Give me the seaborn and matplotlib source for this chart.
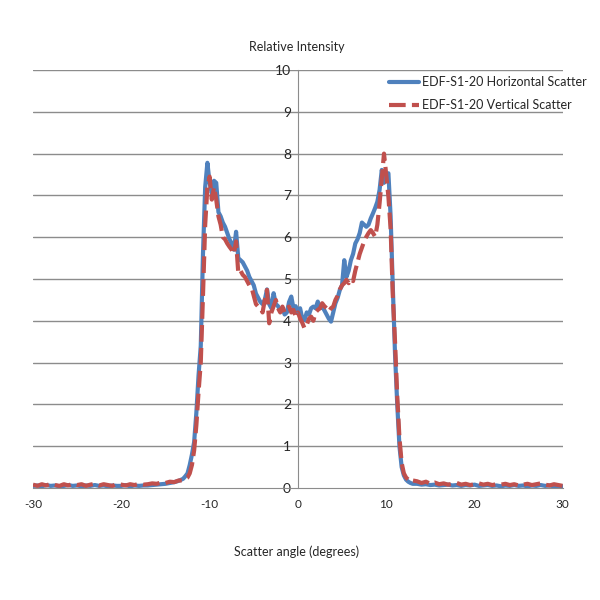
import numpy as np
import pandas as pd
import matplotlib
matplotlib.use("Agg")
import matplotlib.pyplot as plt
import seaborn as sns

# ---------------- data ----------------
angle_left = [-30.0, -29.5, -29.0, -28.5, -28.0, -27.5, -27.0, -26.5, -26.0, -25.5,
              -25.0, -24.5, -24.0, -23.5, -23.0, -22.5, -22.0, -21.5, -21.0, -20.5,
              -20.0, -19.5, -19.0, -18.5, -18.0, -17.5, -17.0, -16.5, -16.0, -15.5,
              -15.0, -14.5, -14.0, -13.5]
angle_core = [-13.0, -12.75, -12.5, -12.25, -12.0, -11.75, -11.5, -11.25, -11.0, -10.75,
              -10.5, -10.25, -10.0, -9.75, -9.5, -9.25, -9.0, -8.75, -8.5, -8.25,
              -8.0, -7.75, -7.5, -7.25, -7.0, -6.75, -6.5, -6.25, -6.0, -5.75,
              -5.5, -5.25, -5.0, -4.75, -4.5, -4.25, -4.0, -3.75, -3.5, -3.25,
              -3.0, -2.75, -2.5, -2.25, -2.0, -1.75, -1.5, -1.25, -1.0, -0.75,
              -0.5, -0.25, 0.0, 0.25, 0.5, 0.75, 1.0, 1.25, 1.5, 1.75,
              2.0, 2.25, 2.5, 2.75, 3.0, 3.25, 3.5, 3.75, 4.0, 4.25,
              4.5, 4.75, 5.0, 5.25, 5.5, 5.75, 6.0, 6.25, 6.5, 6.75,
              7.0, 7.25, 7.5, 7.75, 8.0, 8.25, 8.5, 8.75, 9.0, 9.25,
              9.5, 9.75, 10.0, 10.25, 10.5, 10.75, 11.0, 11.25, 11.5, 11.75,
              12.0, 12.25, 12.5, 12.75, 13.0]
angle_right = [13.5, 14.0, 14.5, 15.0, 15.5, 16.0, 16.5, 17.0, 17.5, 18.0,
               18.5, 19.0, 19.5, 20.0, 20.5, 21.0, 21.5, 22.0, 22.5, 23.0,
               23.5, 24.0, 24.5, 25.0, 25.5, 26.0, 26.5, 27.0, 27.5, 28.0,
               28.5, 29.0, 29.5, 30.0]

horiz_left = [0.05, 0.06, 0.04, 0.07, 0.05, 0.06, 0.04, 0.05, 0.07, 0.05,
              0.06, 0.04, 0.06, 0.05, 0.07, 0.05, 0.06, 0.04, 0.06, 0.05,
              0.05, 0.07, 0.04, 0.06, 0.05, 0.06, 0.06, 0.07, 0.08, 0.09,
              0.10, 0.12, 0.14, 0.17]
horiz_core = [0.22, 0.28, 0.35, 0.55, 0.80, 1.10, 1.80, 2.70, 3.40, 5.60,
              7.20, 7.78, 7.30, 7.05, 7.35, 7.30, 6.60, 6.50, 6.35, 6.25,
              6.10, 5.95, 5.85, 5.70, 6.13, 5.50, 5.45, 5.40, 5.30, 5.20,
              5.05, 4.95, 4.85, 4.65, 4.55, 4.45, 4.40, 4.50, 4.75, 4.40,
              4.30, 4.66, 4.40, 4.35, 4.25, 4.30, 4.15, 4.20, 4.45, 4.58,
              4.30, 4.35, 4.18, 4.30, 4.05, 4.02, 4.20, 4.15, 4.30, 4.34,
              4.30, 4.46, 4.30, 4.34, 4.25, 4.15, 4.05, 3.98, 4.20, 4.42,
              4.55, 4.74, 4.85, 5.45, 5.05, 5.20, 5.45, 5.60, 5.85, 5.95,
              6.10, 6.35, 6.30, 6.25, 6.30, 6.45, 6.57, 6.70, 6.85, 7.13,
              7.61, 7.30, 7.45, 7.53, 6.50, 4.80, 3.20, 2.00, 1.00, 0.50,
              0.30, 0.20, 0.15, 0.12, 0.10]
horiz_right = [0.10, 0.08, 0.09, 0.07, 0.08, 0.06, 0.07, 0.08, 0.06, 0.07,
               0.05, 0.07, 0.06, 0.08, 0.05, 0.06, 0.07, 0.05, 0.06, 0.04,
               0.06, 0.05, 0.07, 0.05, 0.06, 0.04, 0.06, 0.05, 0.07, 0.05,
               0.06, 0.04, 0.05, 0.04]

vert_left = [0.08, 0.05, 0.09, 0.06, 0.10, 0.07, 0.05, 0.09, 0.06, 0.10,
             0.07, 0.09, 0.05, 0.08, 0.10, 0.06, 0.09, 0.07, 0.05, 0.10,
             0.08, 0.06, 0.09, 0.07, 0.10, 0.08, 0.09, 0.11, 0.10, 0.13,
             0.12, 0.15, 0.14, 0.18]
vert_core = [0.18, 0.22, 0.25, 0.35, 0.55, 0.90, 1.50, 2.30, 3.00, 4.60,
             6.30, 7.20, 7.45, 6.90, 7.20, 6.90, 6.50, 6.30, 6.00, 5.95,
             5.85, 5.77, 5.70, 5.60, 5.90, 5.14, 5.20, 5.10, 5.05, 4.95,
             4.85, 4.80, 4.60, 4.40, 4.34, 4.30, 4.20, 4.50, 4.74, 3.94,
             4.20, 4.35, 4.50, 4.30, 4.20, 4.34, 4.20, 4.30, 4.34, 4.20,
             4.26, 4.10, 4.20, 4.06, 3.95, 3.82, 3.90, 4.05, 4.10, 4.00,
             4.20, 4.26, 4.30, 4.42, 4.35, 4.30, 4.22, 4.30, 4.34, 4.50,
             4.60, 4.75, 4.85, 4.90, 4.98, 4.90, 5.00, 4.95, 5.20, 5.40,
             5.60, 5.75, 5.90, 6.01, 6.10, 6.17, 6.10, 6.01, 6.30, 6.81,
             7.40, 8.00, 7.50, 6.97, 6.20, 4.60, 3.50, 2.20, 1.20, 0.60,
             0.35, 0.25, 0.20, 0.15, 0.18]
vert_right = [0.16, 0.12, 0.15, 0.10, 0.13, 0.09, 0.11, 0.08, 0.10, 0.12,
              0.08, 0.10, 0.07, 0.09, 0.11, 0.08, 0.10, 0.07, 0.09, 0.08,
              0.10, 0.07, 0.09, 0.06, 0.08, 0.10, 0.07, 0.09, 0.11, 0.08,
              0.06, 0.09, 0.07, 0.05]

angles = angle_left + angle_core + angle_right
horizontal = horiz_left + horiz_core + horiz_right
vertical = vert_left + vert_core + vert_right

series_names = ["EDF-S1-20 Horizontal Scatter", "EDF-S1-20 Vertical Scatter"]
x_ticks = [-30, -20, -10, 0, 10, 20, 30]
y_ticks = [0, 1, 2, 3, 4, 5, 6, 7, 8, 9, 10]

df = pd.DataFrame({"angle": angles, "h": horizontal, "v": vertical})

# ---------------- style ----------------
sns.set_style("white")
plt.rcParams["font.family"] = ["Lato", "DejaVu Sans"]

fig = plt.figure(figsize=(6, 6), dpi=100)
ax = fig.add_axes([0.055, 0.1867, 0.883, 0.6966])

blue = "#4F81BD"
red = "#C0504D"

sns.lineplot(data=df, x="angle", y="h", ax=ax, color=blue, lw=3.0,
             label=series_names[0], sort=False)
sns.lineplot(data=df, x="angle", y="v", ax=ax, color=red, lw=3.0,
             label=series_names[1], sort=False)
ax.lines[1].set_dashes([4, 1.5])

ax.set_xlim(-30, 30)
ax.set_ylim(0, 10)
ax.set_xticks(x_ticks)
ax.set_yticks(y_ticks)
ax.set_xticklabels([str(t) for t in x_ticks], fontsize=8.5)
ax.set_yticklabels([str(t) for t in y_ticks], fontsize=8.5)

for yv in y_ticks[1:]:
    ax.axhline(yv, color="#8c8c8c", lw=1.0, zorder=0)

for s in ["top", "right"]:
    ax.spines[s].set_visible(False)
ax.spines["left"].set_position(("data", 0))
ax.spines["left"].set_color("#8c8c8c")
ax.spines["bottom"].set_color("#8c8c8c")
ax.spines["left"].set_zorder(0)
ax.tick_params(axis="y", length=3, color="#8c8c8c", pad=2)
ax.tick_params(axis="x", length=3, color="#8c8c8c", pad=5)
ax.set_xlabel("")
ax.set_ylabel("")

fig.text(0.495, 0.922, "Relative Intensity", ha="center", va="center", fontsize=9)
fig.text(0.495, 0.081, "Scatter angle (degrees)", ha="center", va="center", fontsize=9)

ax.get_legend().remove()
handles = ax.lines[:2]
leg = fig.legend(handles, series_names, loc="upper right",
                 bbox_to_anchor=(0.99, 0.885), frameon=False, fontsize=9,
                 handlelength=2.4, labelspacing=0.85, handletextpad=0.25,
                 borderaxespad=0.2)

fig.savefig("out.png", dpi=100, facecolor="white")
